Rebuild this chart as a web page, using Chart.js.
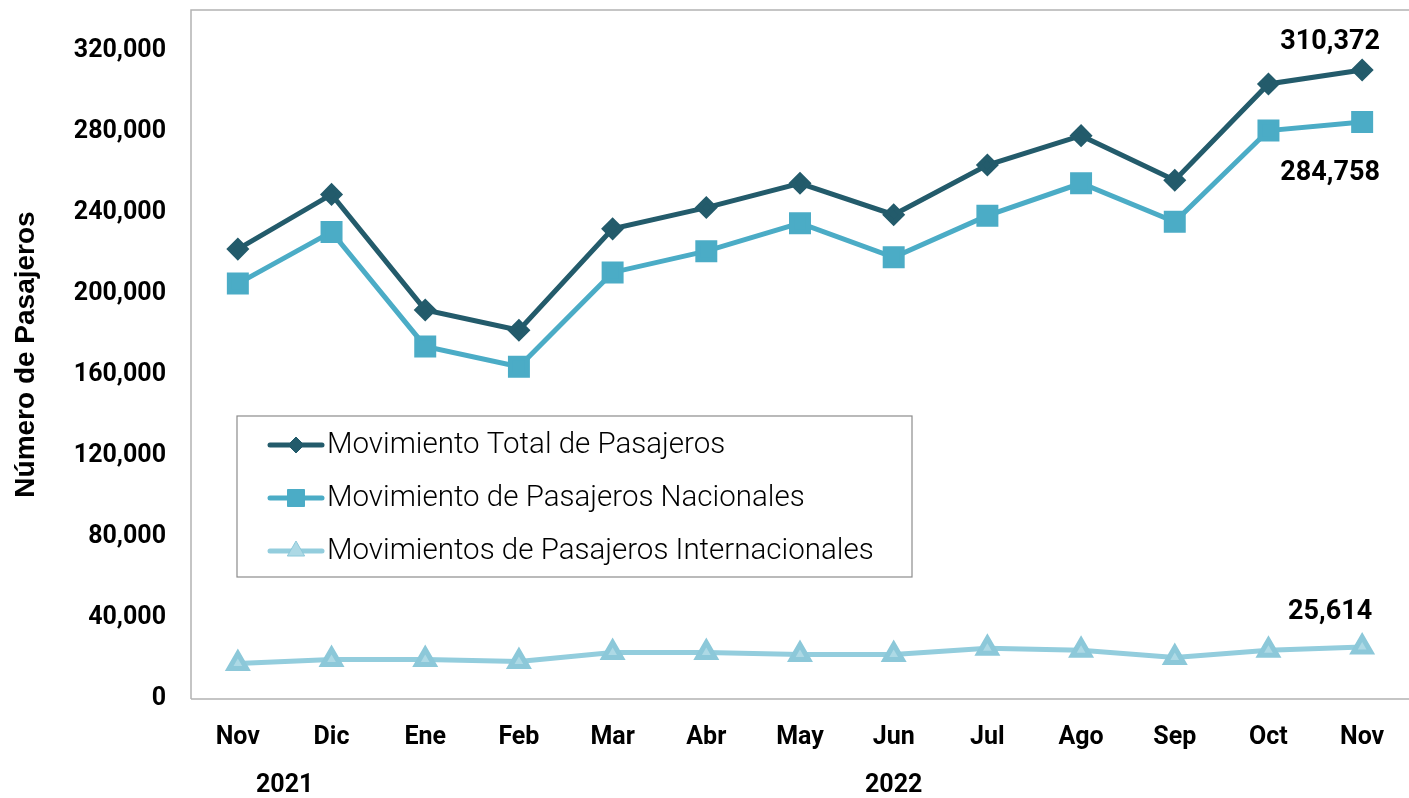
<!DOCTYPE html>
<html>
<head>
<meta charset="utf-8">
<script src="https://cdn.jsdelivr.net/npm/chart.js@4/dist/chart.umd.min.js"></script>
<style>
  html, body { margin: 0; padding: 0; background: #fff; }
  #wrap { width: 1409px; height: 798px; }
</style>
</head>
<body>
<div id="wrap"><canvas id="pasajerosChart" width="1409" height="798"></canvas></div>
<script>
const months = ['Nov', 'Dic', 'Ene', 'Feb', 'Mar', 'Abr', 'May', 'Jun', 'Jul', 'Ago', 'Sep', 'Oct', 'Nov'];
const years = [
    { label: '2021', from: 0, to: 1 },
    { label: '2022', from: 2, to: 12 }
];
const totalPasajeros = [222000, 249000, 192000, 182000, 232000, 242500, 254500, 239000, 263500, 278000, 256000, 303500, 310372];
const nacionales = [205000, 230500, 174000, 164000, 210500, 221000, 234800, 218000, 238500, 254500, 235500, 280500, 284758];
const internacionales = [17500, 19500, 19500, 18500, 23000, 23000, 22000, 22000, 25000, 24000, 20500, 24000, 25614];
const yTicks = [0, 40000, 80000, 120000, 160000, 200000, 240000, 280000, 320000];

const fmt = (v) => new Intl.NumberFormat('en-US').format(v);

// frame, legend box, year labels and last-point labels
const extras = {
    id: 'extras',
    afterDraw(chart) {
        const ctx = chart.ctx;
        const area = chart.chartArea;
        const xs = chart.scales.x;

        ctx.save();
        ctx.strokeStyle = '#b3b3b3';
        ctx.lineWidth = 1.5;
        ctx.beginPath();
        ctx.moveTo(area.left, area.bottom);
        ctx.lineTo(area.left, area.top);
        ctx.lineTo(chart.width, area.top);
        ctx.moveTo(area.left, area.bottom);
        ctx.lineTo(chart.width, area.bottom);
        ctx.stroke();

        // years under month labels
        ctx.fillStyle = '#000';
        ctx.font = 'bold 25px Roboto';
        ctx.textAlign = 'center';
        ctx.textBaseline = 'middle';
        years.forEach(y => {
            const x = (xs.getPixelForValue(y.from) + xs.getPixelForValue(y.to)) / 2;
            ctx.fillText(y.label, x, 786);
        });

        // labels at last point
        const offsets = [-28, 51, -35];
        ctx.font = 'bold 27px Roboto';
        chart.data.datasets.forEach((ds, i) => {
            const pts = chart.getDatasetMeta(i).data;
            const p = pts[pts.length - 1];
            ctx.fillText(fmt(ds.data[ds.data.length - 1]), p.x - 32, p.y + offsets[i]);
        });

        // legend box inside the plot
        const box = { x: 237, y: 416, w: 675, h: 161 };
        ctx.strokeStyle = '#8c8c8c';
        ctx.lineWidth = 1.2;
        ctx.strokeRect(box.x, box.y, box.w, box.h);
        ctx.textAlign = 'left';
        ctx.font = '300 29.5px Roboto';
        chart.data.datasets.forEach((ds, i) => {
            const cy = box.y + 29 + i * 53;
            ctx.strokeStyle = ds.borderColor;
            ctx.lineWidth = 5;
            ctx.lineCap = 'round';
            ctx.beginPath();
            ctx.moveTo(270, cy);
            ctx.lineTo(322, cy);
            ctx.stroke();
            ctx.lineCap = 'butt';
            ctx.fillStyle = ds.pointBackgroundColor;
            ctx.strokeStyle = ds.pointBorderColor;
            ctx.lineWidth = 1;
            Chart.helpers.drawPoint(ctx, { pointStyle: ds.pointStyle, radius: ds.pointRadius, borderWidth: 1 }, 296, cy);
            ctx.fillStyle = '#000';
            ctx.fillText(ds.label, 327, cy + 1);
        });
        ctx.restore();
    }
};

const ctx = document.getElementById('pasajerosChart').getContext('2d');
new Chart(ctx, {
    type: 'line',
    data: {
        labels: months,
        datasets: [
            {
                label: 'Movimiento Total de Pasajeros',
                data: totalPasajeros,
                borderColor: '#235b6b',
                backgroundColor: '#235b6b',
                pointBackgroundColor: '#235b6b',
                pointBorderColor: '#235b6b',
                pointStyle: 'rectRot',
                pointRadius: 8,
                borderWidth: 5
            },
            {
                label: 'Movimiento de Pasajeros Nacionales',
                data: nacionales,
                borderColor: '#4bacc6',
                backgroundColor: '#4bacc6',
                pointBackgroundColor: '#4bacc6',
                pointBorderColor: '#4bacc6',
                pointStyle: 'rect',
                pointRadius: 12,
                borderWidth: 5
            },
            {
                label: 'Movimientos de Pasajeros Internacionales',
                data: internacionales,
                borderColor: '#93cddd',
                backgroundColor: '#93cddd',
                pointBackgroundColor: '#add9e5',
                pointBorderColor: '#8cc8d9',
                pointStyle: 'triangle',
                pointRadius: 10,
                borderWidth: 5
            }
        ]
    },
    options: {
        responsive: false,
        animation: false,
        layout: { autoPadding: false, padding: { top: 10, right: 0, left: 0, bottom: 0 } },
        plugins: {
            legend: { display: false },
            tooltip: { enabled: false }
        },
        elements: { line: { tension: 0 }, point: { borderWidth: 1 } },
        scales: {
            x: {
                offset: true,
                grid: { display: false, drawTicks: false },
                border: { display: false },
                ticks: {
                    color: '#000',
                    font: { family: 'Roboto', size: 25, weight: 'bold' },
                    padding: 24,
                    maxRotation: 0
                },
                afterFit: (scale) => {
                    scale.height = 99;
                    scale.paddingLeft = 0;
                    scale.paddingRight = 0;
                }
            },
            y: {
                min: 0,
                max: 340000,
                grid: { display: false, drawTicks: false },
                border: { display: false },
                afterBuildTicks: (scale) => { scale.ticks = yTicks.map(v => ({ value: v })); },
                ticks: {
                    color: '#000',
                    font: { family: 'Roboto', size: 25, weight: 'bold' },
                    padding: 25,
                    callback: (v) => fmt(v)
                },
                title: {
                    display: true,
                    text: 'Número de Pasajeros',
                    color: '#000',
                    font: { family: 'Liberation Sans', size: 28, weight: 'bold' },
                    padding: { top: 9, bottom: 0 }
                },
                afterFit: (scale) => {
                    scale.width = 191;
                    scale.paddingTop = 0;
                    scale.paddingBottom = 0;
                }
            }
        }
    },
    plugins: [extras]
});
</script>
</body>
</html>
